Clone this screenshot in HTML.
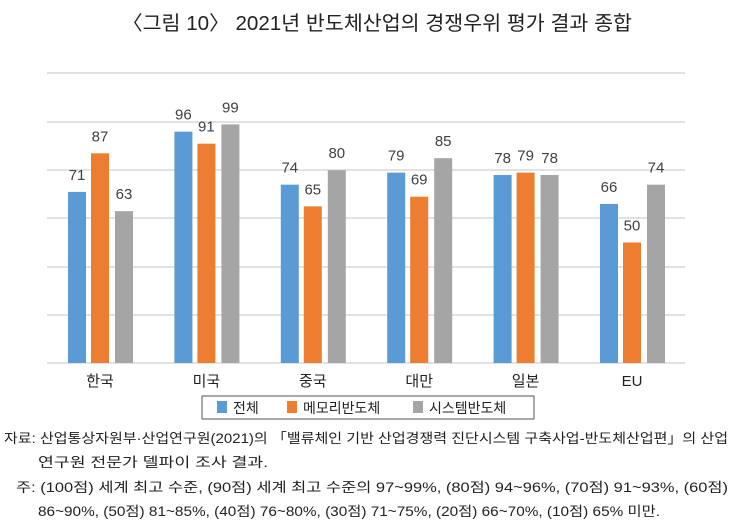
<!DOCTYPE html><html><head><meta charset="utf-8"><style>
body{margin:0;width:754px;height:522px;background:#fff;font-family:"Liberation Sans","Noto Sans CJK KR",sans-serif;overflow:hidden}
</style></head><body>
<svg width="754" height="522" xmlns="http://www.w3.org/2000/svg" style="position:absolute;left:0;top:0;font-family:'Liberation Sans','Noto Sans CJK KR',sans-serif">
<text x="122" y="30" textLength="510" lengthAdjust="spacingAndGlyphs" font-size="20" fill="#222">〈그림 10〉 2021년 반도체산업의 경쟁우위 평가 결과 종합</text>
<g stroke="#d9d9d9" stroke-width="1.5">
<line x1="47" x2="685" y1="73" y2="73"/><line x1="47" x2="685" y1="122" y2="122"/><line x1="47" x2="685" y1="170" y2="170"/><line x1="47" x2="685" y1="218" y2="218"/><line x1="47" x2="685" y1="267" y2="267"/><line x1="47" x2="685" y1="315" y2="315"/><line x1="47" x2="685" y1="363" y2="363"/>
</g>
<g id="bars" font-size="15" fill="#404040" text-anchor="middle"></g>
<rect x="202" y="396" width="332" height="23" fill="#fff" stroke="#555"/>
<rect x="217" y="401" width="10" height="12" fill="#5b9bd5"/><text x="233" y="413" font-size="14" fill="#222">전체</text>
<rect x="287" y="401" width="10" height="12" fill="#ed7d31"/><text x="303" y="413" font-size="14" fill="#222">메모리반도체</text>
<rect x="413" y="401" width="10" height="12" fill="#a5a5a5"/><text x="429" y="413" font-size="14" fill="#222">시스템반도체</text>
<g font-size="13.5" fill="#222" lengthAdjust="spacingAndGlyphs">
<text x="4" y="443" textLength="724" lengthAdjust="spacingAndGlyphs">자료: 산업통상자원부·산업연구원(2021)의 「밸류체인 기반 산업경쟁력 진단시스템 구축사업-반도체산업편」의 산업</text>
<text x="38" y="467" textLength="230" lengthAdjust="spacingAndGlyphs">연구원 전문가 델파이 조사 결과.</text>
<text x="16" y="492" textLength="712" lengthAdjust="spacingAndGlyphs">주: (100점) 세계 최고 수준, (90점) 세계 최고 수준의 97~99%, (80점) 94~96%, (70점) 91~93%, (60점)</text>
<text x="38" y="516" textLength="622" lengthAdjust="spacingAndGlyphs">86~90%, (50점) 81~85%, (40점) 76~80%, (30점) 71~75%, (20점) 66~70%, (10점) 65% 미만.</text>
</g>
</svg>
<script>
var d=[["한국",71,87,63],["미국",96,91,99],["중국",74,65,80],["대만",79,69,85],["일본",78,79,78],["EU",66,50,74]];
var c=["#5b9bd5","#ed7d31","#a5a5a5"],off=[-32,-9,15],s="";
d.forEach(function(g,i){var cx=100+106.4*i;
for(var k=0;k<3;k++){var v=g[k+1],y=363-v*2.41,x=cx+off[k];
s+='<rect x="'+x+'" y="'+y+'" width="18" height="'+(363-y)+'" fill="'+c[k]+'"/>';
s+='<text x="'+(x+9)+'" y="'+(y-12)+'">'+v+'</text>';}
s+='<text x="'+cx+'" y="386" fill="#222">'+g[0]+'</text>';});
document.getElementById("bars").innerHTML=s;
</script>
</body></html>
